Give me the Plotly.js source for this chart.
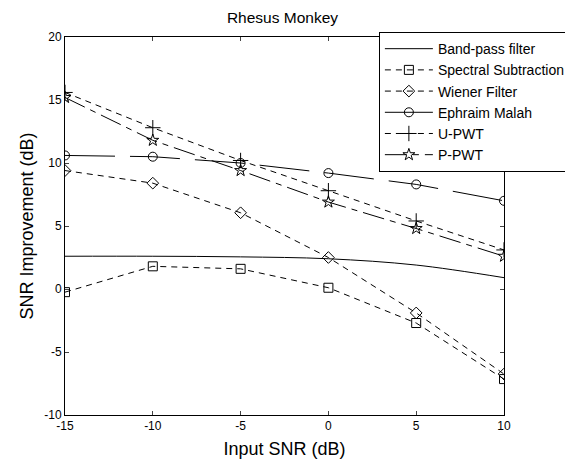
<!DOCTYPE html>
<html><head><meta charset="utf-8">
<script src="https://cdn.plot.ly/plotly-3.0.1.min.js"></script>
<style>html,body{margin:0;padding:0;background:#fff;overflow:hidden;}#chart{width:565px;height:468px;}</style>
</head><body><div id="chart"></div>
<script>
const inputSNR = [-15, -10, -5, 0, 5, 10];
const bandPass = [2.6, 2.6, 2.55, 2.4, 1.9, 0.9];
const spectralSub = [-0.25, 1.8, 1.6, 0.1, -2.7, -7.15];
const wiener = [9.4, 8.4, 6.05, 2.5, -1.9, -6.75];
const ephraim = [10.6, 10.5, 10.0, 9.2, 8.3, 7.0];
const uPWT = [15.6, 12.8, 10.2, 7.8, 5.4, 3.1];
const pPWT = [15.2, 11.8, 9.4, 6.9, 4.8, 2.6];
const seriesNames = ['Band-pass filter','Spectral Subtraction','Wiener Filter','Ephraim Malah','U-PWT','P-PWT'];
const xTicks = [-15, -10, -5, 0, 5, 10];
const yTicks = [-10, -5, 0, 5, 10, 15, 20];

const styles = [
  {dash:'solid', symbol:null},
  {dash:'6px,5px', symbol:'square-open'},
  {dash:'6px,5px', symbol:'diamond-open'},
  {dash:'50px,15px', symbol:'circle-open'},
  {dash:'6px,5px', symbol:'cross-thin-open'},
  {dash:'22px,6px,6px,6px', symbol:'star-open'}
];
const ys = [bandPass, spectralSub, wiener, ephraim, uPWT, pPWT];
const traces = ys.map((y,i)=>{
  const t = {x: inputSNR, y: y, name: seriesNames[i], type:'scatter',
    line:{color:'#000', width:1, dash:styles[i].dash, shape: i===0?'spline':'linear'}};
  if (styles[i].symbol) {
    t.mode='lines+markers';
    t.marker={symbol:styles[i].symbol, size: styles[i].symbol==='cross-thin-open'?11:9, color:'#000', line:{color:'#000', width:1}};
  } else t.mode='lines';
  return t;
});

const layout = {
  width:565, height:468,
  margin:{l:65, r:61, t:37, b:53, autoexpand:false},
  paper_bgcolor:'#fff', plot_bgcolor:'#fff',
  font:{family:'Liberation Sans, Arial, sans-serif', color:'#000', size:12},
  title:{text:'Rhesus Monkey', font:{size:15.5}, x:0.5, xanchor:'center', y:0.962, yanchor:'middle'},
  xaxis:{range:[-15,10], tickvals:xTicks, ticktext:xTicks.map(String), ticks:'inside', ticklen:4,
    showline:true, linecolor:'#000', linewidth:1, mirror:'allticks', showgrid:false, zeroline:false,
    title:{text:'Input SNR (dB)', font:{size:18}, standoff:9}},
  yaxis:{range:[-10,20], tickvals:yTicks, ticktext:yTicks.map(String), ticks:'inside', ticklen:4,
    showline:true, linecolor:'#000', linewidth:1, mirror:'allticks', showgrid:false, zeroline:false,
    title:{text:'SNR Improvement (dB)', font:{size:18}, standoff:5}},
  legend:{x:0.715, xanchor:'left', y:1.013, yanchor:'top', bgcolor:'#fff', bordercolor:'#000', borderwidth:1,
    font:{size:14}, tracegroupgap:0, itemwidth:48},
  showlegend:true
};
Plotly.newPlot('chart', traces, layout, {displayModeBar:false, staticPlot:true});
</script></body></html>
